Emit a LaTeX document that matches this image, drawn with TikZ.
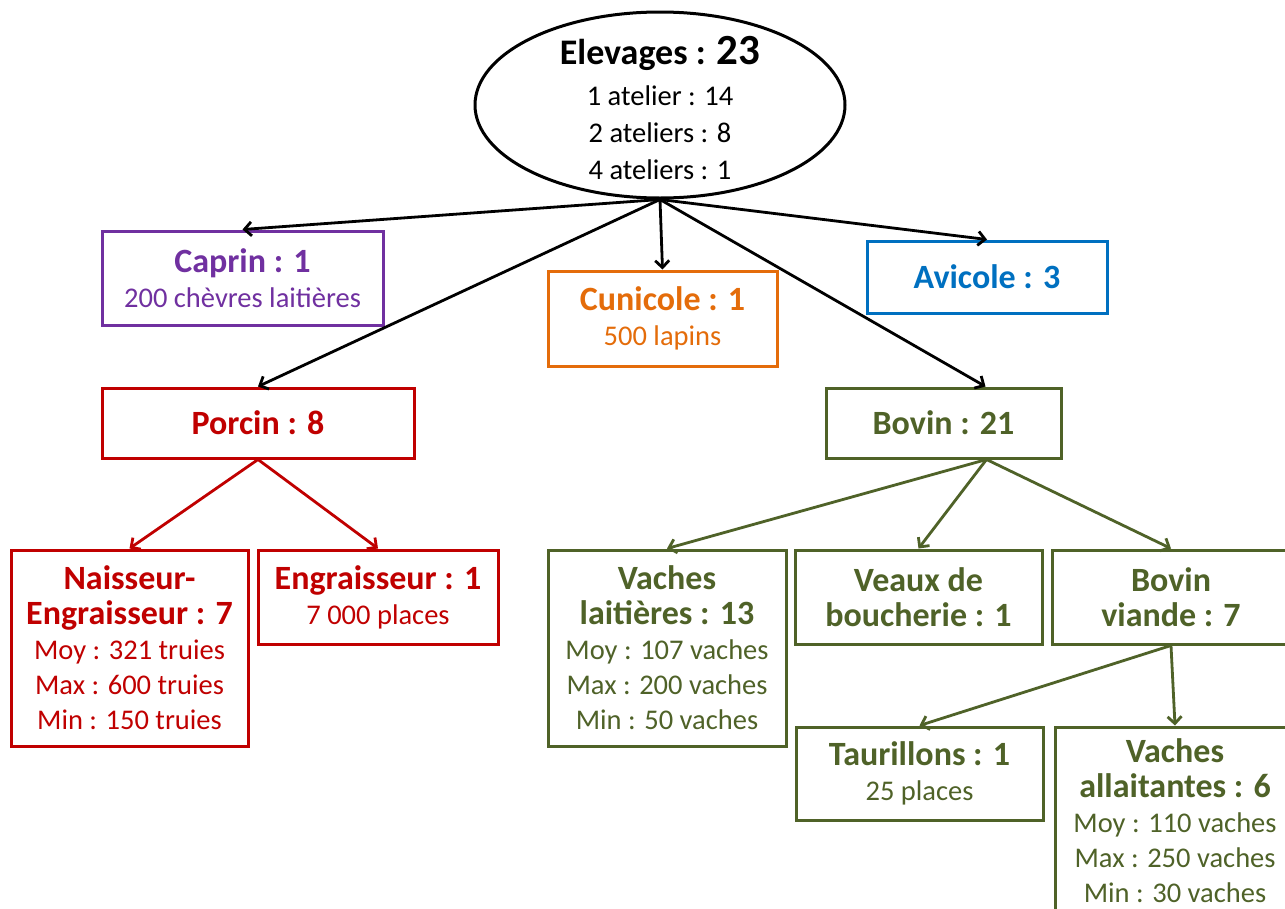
\documentclass[tikz,border=0pt]{standalone}
\usepackage{fontspec}
\setmainfont{Carlito}
\usetikzlibrary{arrows.meta,shapes.geometric}
\definecolor{cpurple}{HTML}{7030A0}
\definecolor{corange}{HTML}{E46C0A}
\definecolor{cblue}{HTML}{0070C0}
\definecolor{cred}{HTML}{C00000}
\definecolor{cgreen}{HTML}{4F6228}
\newcommand{\boxtitle}{\fontsize{34}{36}\selectfont\bfseries}
\newcommand{\boxtext}{\fontsize{28.5}{35}\selectfont}
\newcommand{\tl}[1]{{\boxtitle #1}}
\begin{document}
\begin{tikzpicture}[x=1pt,y=-1pt,
  box/.style={draw=#1, text=#1, line width=3pt, rectangle, inner sep=0pt, align=center, font=\boxtext},
  arr/.style={draw=#1, line width=2.8pt, -{Straight Barb[length=7pt,width=14pt]}},
]
\useasboundingbox (0,0) rectangle (1285,908);
\clip (0,0) rectangle (1285,908);
\fill[white] (0,0) rectangle (1285,908);

% root
\node[draw, ellipse, line width=3pt, minimum width=370, minimum height=186, inner sep=0pt] (root) at (660,105) {};
\node[align=center, font=\fontsize{28.5}{37}\selectfont] (roottext) at (660,108)
  {{\fontsize{36}{37}\selectfont\bfseries Elevages : {\fontsize{43}{37}\selectfont 23}}\\[4pt]
   1 atelier : 14\\2 ateliers : 8\\4 ateliers : 1};

% level 1
\node[box=cpurple, minimum width=281, minimum height=94] (caprin) at (242.5,278) {\tl{Caprin : 1}\\200 chèvres laitières};
\node[box=corange, minimum width=229, minimum height=95] (cunicole) at (662.5,318.5) {\tl{Cunicole : 1}\\500 lapins};
\node[box=cblue, minimum width=240, minimum height=72] (avicole) at (987,277) {\tl{Avicole : 3}};
\node[box=cred, minimum width=312, minimum height=70] (porcin) at (258,423) {\tl{Porcin : 8}};
\node[box=cgreen, minimum width=235, minimum height=70] (bovin) at (943.5,423) {\tl{Bovin : 21}};
\coordinate (bovinin) at ([xshift=42pt]bovin.north);
\coordinate (bovinout) at ([xshift=43pt]bovin.south);

% level 2
\node[box=cred, minimum width=237, minimum height=196] (naisseur) at (129.5,648)
  {\tl{Naisseur-}\\\tl{Engraisseur : 7}\\Moy : 321 truies\\Max : 600 truies\\Min : 150 truies};
\node[box=cred, minimum width=240, minimum height=94] (engraisseur) at (378,597)
  {\tl{Engraisseur : 1}\\7 000 places};
\node[box=cgreen, minimum width=238, minimum height=196] (laitieres) at (667,648)
  {\tl{Vaches}\\\tl{laitières : 13}\\Moy : 107 vaches\\Max : 200 vaches\\Min : 50 vaches};
\node[box=cgreen, minimum width=247, minimum height=94] (veaux) at (918.5,597)
  {\tl{Veaux de}\\\tl{boucherie : 1}};
\node[box=cgreen, minimum width=238, minimum height=94] (viande) at (1171,597)
  {\tl{Bovin}\\\tl{viande : 7}};

% level 3
\node[box=cgreen, minimum width=247, minimum height=93] (taurillons) at (919.5,773.5)
  {\tl{Taurillons : 1}\\25 places};
\node[box=cgreen, minimum width=240, minimum height=188] (allaitantes) at (1175,821)
  {\tl{Vaches}\\\tl{allaitantes : 6}\\Moy : 110 vaches\\Max : 250 vaches\\Min : 30 vaches};

% connectors
\draw[arr=black] (root.south) -- (caprin.north);
\draw[arr=black] (root.south) -- (porcin.north);
\draw[arr=black] (root.south) -- (cunicole.north);
\draw[arr=black] (root.south) -- (avicole.north);
\draw[arr=black] (root.south) -- (bovinin);
\draw[arr=cred] (porcin.south) -- (naisseur.north);
\draw[arr=cred] (porcin.south) -- (engraisseur.north);
\draw[arr=cgreen] (bovinout) -- (laitieres.north);
\draw[arr=cgreen] (bovinout) -- (veaux.north);
\draw[arr=cgreen] (bovinout) -- (viande.north);
\draw[arr=cgreen] (viande.south) -- (taurillons.north);
\draw[arr=cgreen] (viande.south) -- (allaitantes.north);
\end{tikzpicture}
\end{document}
